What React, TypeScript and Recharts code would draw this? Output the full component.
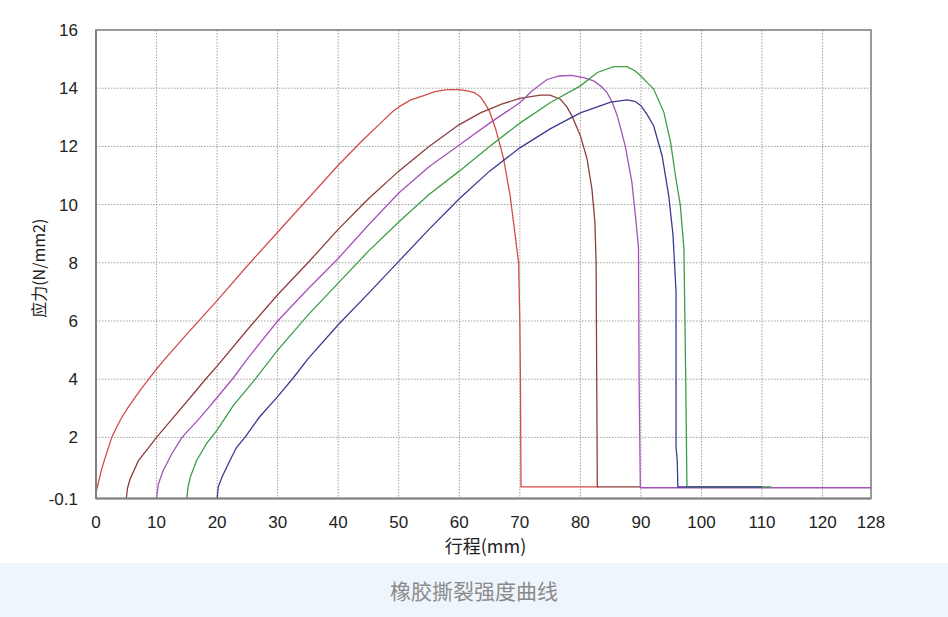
import React from "react";
import {
  LineChart,
  Line,
  XAxis,
  YAxis,
  CartesianGrid,
  ReferenceArea,
  Label,
} from "recharts";

type Pt = { x: number; y: number };

// stroke (x mm, stress N/mm2)
const redCurve: Pt[] = [
  [0, -0.1], [0.1, 0.2], [0.4, 0.45], [0.8, 0.8], [1.2, 1.1], [1.9, 1.55],
  [2.6, 2.0], [3.4, 2.35], [4.3, 2.7], [5.2, 3.0], [6.2, 3.3], [7.4, 3.65],
  [8.7, 4.0], [10, 4.35], [11.4, 4.7], [15, 5.55], [20, 6.7], [25, 7.9],
  [30, 9.05], [35, 10.2], [40, 11.35], [44, 12.2], [47, 12.8], [49, 13.2],
  [50.5, 13.42], [52, 13.6], [54, 13.74], [56, 13.88], [58, 13.95], [60, 13.95],
  [61.5, 13.9], [62.5, 13.85], [63.5, 13.7], [64.3, 13.45], [65, 13.2], [66, 12.6],
  [67.3, 11.6], [68.4, 10.3], [69.2, 9.0], [69.8, 8.0], [70, 6.0], [70.1, 4.0],
  [70.15, 2.0], [70.2, 0.3], [83, 0.3],
].map(([x, y]) => ({ x, y }));

const brownCurve: Pt[] = [
  [5, -0.1], [5.2, 0.25], [5.6, 0.55], [7, 1.2], [8.6, 1.62], [10, 2.0],
  [12.2, 2.54], [16.1, 3.5], [18.3, 4.05], [20, 4.45], [25, 5.7], [30, 6.9],
  [35, 8.0], [40, 9.15], [45, 10.2], [50, 11.15], [55, 12.0], [60, 12.75],
  [63.5, 13.15], [67, 13.45], [70, 13.65], [73.4, 13.76], [75, 13.76],
  [76.7, 13.62], [77.8, 13.35], [78.6, 13.05], [80, 12.37], [81.1, 11.57],
  [81.9, 10.55], [82.4, 9.4], [82.6, 8.0], [82.7, 4.0], [82.8, 0.3], [90, 0.3],
].map(([x, y]) => ({ x, y }));

const purpleCurve: Pt[] = [
  [10, -0.1], [10.3, 0.4], [11.1, 0.86], [12.5, 1.43], [14.2, 2.0], [17.2, 2.68],
  [20, 3.37], [22.7, 4.05], [25, 4.7], [30, 6.0], [35, 7.1], [40, 8.15],
  [45, 9.3], [50, 10.4], [55, 11.3], [60, 12.05], [65, 12.8], [70, 13.5],
  [72, 13.9], [74.5, 14.3], [76.5, 14.42], [78.5, 14.44], [80.5, 14.36],
  [82.2, 14.25], [83.5, 14.05], [84.4, 13.85], [85.3, 13.5], [86.1, 13.05],
  [87.4, 12.03], [88.5, 10.78], [89.2, 9.4], [89.6, 8.5], [89.7, 4.0],
  [89.9, 0.27], [128, 0.27],
].map(([x, y]) => ({ x, y }));

const greenCurve: Pt[] = [
  [15, -0.1], [15.2, 0.3], [15.6, 0.65], [16.6, 1.2], [18.3, 1.8], [20, 2.25],
  [22.7, 3.1], [26.3, 4.0], [30, 5.0], [35, 6.2], [40, 7.3], [45, 8.4],
  [50, 9.4], [55, 10.35], [60, 11.15], [65, 12.0], [70, 12.8], [75, 13.5],
  [80, 14.08], [82.8, 14.54], [85.5, 14.74], [87.7, 14.74], [89, 14.6],
  [90, 14.42], [91, 14.2], [92.1, 13.97], [93.8, 13.17], [94.9, 12.14],
  [95.7, 11.0], [96.5, 9.98], [97.1, 8.5], [97.4, 4.0], [97.6, 0.3],
  [111.5, 0.3],
].map(([x, y]) => ({ x, y }));

const blueCurve: Pt[] = [
  [20, -0.1], [20.2, 0.3], [20.8, 0.63], [22.1, 1.2], [23.2, 1.65], [24.6, 2.0],
  [27, 2.7], [30, 3.4], [32.6, 4.05], [35, 4.7], [40, 5.87], [45, 6.95],
  [50, 8.05], [55, 9.15], [60, 10.2], [65, 11.15], [70, 11.95], [75, 12.6],
  [80, 13.15], [85, 13.52], [87.7, 13.6], [89, 13.55], [90, 13.4], [91, 13.1],
  [92.1, 12.71], [93.5, 11.68], [94.6, 10.3], [95.3, 8.95], [95.8, 7.0],
  [95.8, 1.66], [96.0, 1.2], [96.1, 0.3], [110, 0.3],
].map(([x, y]) => ({ x, y }));

const xTicks = [0, 10, 20, 30, 40, 50, 60, 70, 80, 90, 100, 110, 120, 128];
const yTicks = [-0.1, 2, 4, 6, 8, 10, 12, 14, 16];

const xTitle = "行程(mm)";
const yTitle = "应力(N/mm2)";
const caption = "橡胶撕裂强度曲线";

const series = [
  { key: "red", data: redCurve, color: "#d44b4b" },
  { key: "brown", data: brownCurve, color: "#8e3c3c" },
  { key: "purple", data: purpleCurve, color: "#a452b8" },
  { key: "green", data: greenCurve, color: "#3d9e47" },
  { key: "blue", data: blueCurve, color: "#3b3b8f" },
];

const tickStyle = { fontSize: 17, fill: "#222", fontFamily: "Liberation Sans, Arial, sans-serif" };

export default function App() {
  return (
    <div
      style={{
        position: "absolute",
        left: 0,
        top: 0,
        width: 948,
        height: 617,
        background: "#fff",
        fontFamily: "Liberation Sans, Arial, sans-serif",
      }}
    >
      <LineChart width={948} height={563} margin={{ top: 30, right: 77, bottom: 0, left: 0 }}>
        <CartesianGrid stroke="#a0a0a0" strokeDasharray="1.5 1.5" />
        <XAxis
          type="number"
          dataKey="x"
          domain={[0, 128]}
          ticks={xTicks}
          allowDataOverflow
          height={64.5}
          tick={tickStyle}
          tickLine={false}
          tickMargin={11}
          axisLine={{ stroke: "#808080", strokeWidth: 2 }}
        >
          <Label
            content={({ viewBox }: any) => (
              <text
                x={viewBox.x + viewBox.width / 2 + 2}
                y={viewBox.y + 54}
                textAnchor="middle"
                fontSize={18}
                fill="#222"
                fontFamily="'Noto Sans CJK SC', sans-serif"
              >
                {xTitle}
              </text>
            )}
          />
        </XAxis>
        <YAxis
          type="number"
          dataKey="y"
          domain={[-0.1, 16]}
          ticks={yTicks}
          allowDataOverflow
          width={96}
          tick={tickStyle}
          tickLine={false}
          tickMargin={12}
          axisLine={{ stroke: "#808080", strokeWidth: 2 }}
        >
          <Label
            content={({ viewBox }: any) => {
              const cx = viewBox.x + 38;
              const cy = viewBox.y + viewBox.height / 2 + 4;
              return (
                <text
                  x={cx}
                  y={cy}
                  transform={`rotate(-90 ${cx} ${cy})`}
                  textAnchor="middle"
                  dominantBaseline="central"
                  fontSize={16}
                  fill="#222"
                  fontFamily="'Noto Sans CJK SC', sans-serif"
                >
                  {yTitle}
                </text>
              );
            }}
          />
        </YAxis>
        <ReferenceArea
          x1={0}
          x2={128}
          y1={-0.1}
          y2={16}
          fill="none"
          stroke="#808080"
          strokeWidth={1.5}
        />
        {series.map((s) => (
          <Line
            key={s.key}
            data={s.data}
            dataKey="y"
            type="linear"
            stroke={s.color}
            strokeWidth={1.3}
            dot={false}
            activeDot={false}
            isAnimationActive={false}
          />
        ))}
      </LineChart>
      <div
        style={{
          position: "absolute",
          left: 0,
          top: 563,
          width: 948,
          height: 54,
          background: "#eef5fc",
          display: "flex",
          alignItems: "center",
          justifyContent: "center",
          color: "#8a8a8a",
          fontSize: 21,
          fontFamily: "'Noto Sans CJK SC', sans-serif",
        }}
      >
        {caption}
      </div>
    </div>
  );
}
